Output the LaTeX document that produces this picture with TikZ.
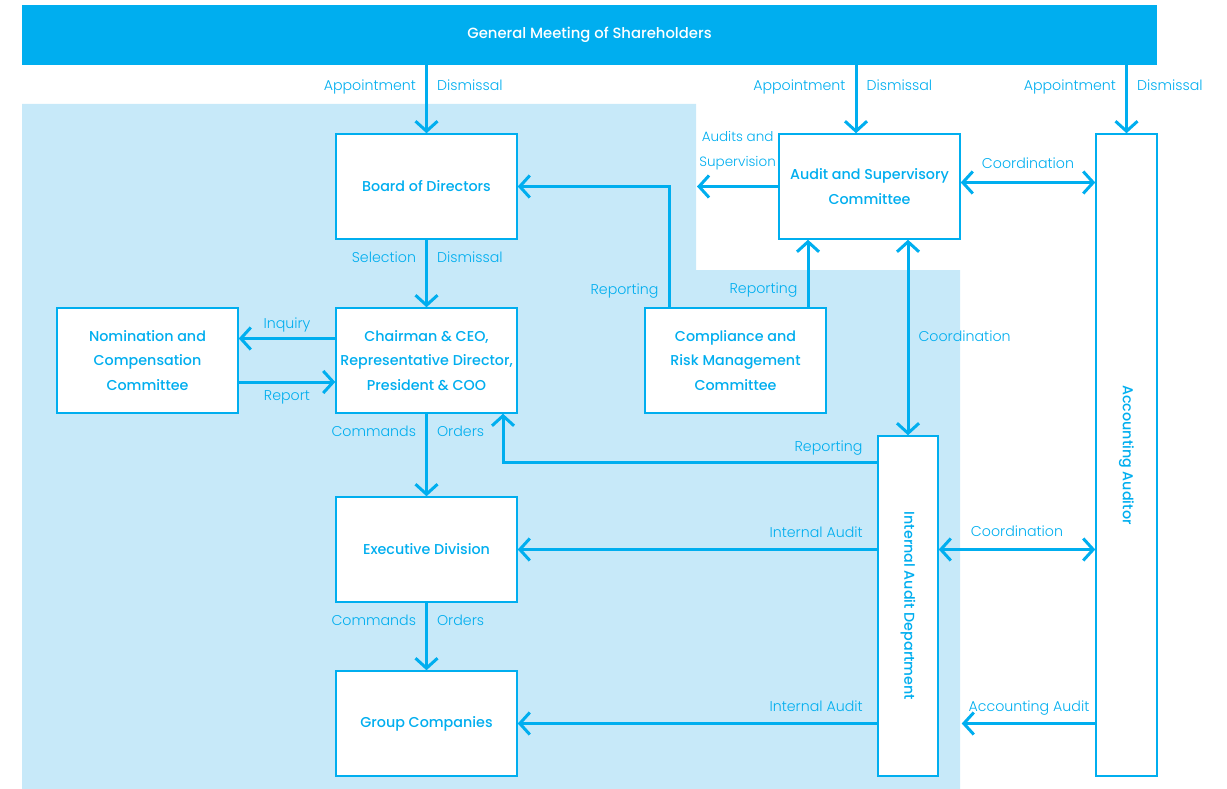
\documentclass[tikz,border=0pt]{standalone}
\usepackage{fontspec}
\setmainfont{Poppins}[UprightFont=* Light, BoldFont=* Medium]
\usepackage{graphicx}
\usepackage{tikz}
\usetikzlibrary{arrows.meta}
\definecolor{mycyan}{RGB}{0,174,239}
\definecolor{mylight}{RGB}{199,233,249}

\begin{document}
\begin{tikzpicture}[
    x=1pt, y=-1pt,
    box/.style={rectangle, draw=mycyan, line width=1.5pt, fill=white, minimum width=181pt, minimum height=105pt, align=center, text=mycyan, font=\bfseries\fontsize{14.3}{24.5}\selectfont},
    tallbox/.style={box, minimum width=61pt},
    arrow/.style={-{Straight Barb[length=10pt,width=22pt]}, draw=mycyan, line width=3pt},
    twoway/.style={{Straight Barb[length=10pt,width=22pt]}-{Straight Barb[length=10pt,width=22pt]}, draw=mycyan, line width=3pt},
    lbl/.style={text=mycyan, font=\fontsize{14.2}{25}\selectfont, inner xsep=9pt, inner ysep=6pt, text height=10.5pt, text depth=3pt}
]
\useasboundingbox (0,0) rectangle (1227,789);
\fill[mylight] (22,104) -- (696,104) -- (696,270) -- (960,270) -- (960,789) -- (22,789) -- cycle;

\node[fill=mycyan, minimum width=1135pt, minimum height=60pt, text=white, font=\bfseries\fontsize{14.8}{18}\selectfont] (gms) at (589.5,35) {General Meeting of Shareholders};

\node[box] (bod) at (426.5,186.5) {Board of Directors};
\node[box] (asc) at (869.5,186.5) {Audit and Supervisory\\Committee};
\node[tallbox, minimum height=642pt] (acc) at (1126.5,455) {\rotatebox{-90}{Accounting Auditor}};
\node[box] (ceo) at (426.5,360.5) {Chairman \& CEO,\\Representative Director,\\President \& COO};
\node[box] (nom) at (147.5,360.5) {Nomination and\\Compensation\\Committee};
\node[box] (crm) at (735.5,360.5) {Compliance and\\Risk Management\\Committee};
\node[tallbox, minimum width=60pt, minimum height=340pt] (iad) at (908,606) {\rotatebox{-90}{Internal Audit Department}};
\node[box] (exe) at (426.5,549.5) {Executive Division};
\node[box] (grp) at (426.5,723.5) {Group Companies};

\coordinate (ascin) at ([xshift=-13.5pt]asc.north);
\coordinate (supend) at (697,186.5);
\coordinate (crmup) at ([xshift=-66.5pt]crm.north);
\coordinate (crmrt) at ([xshift=72.5pt]crm.north);
\coordinate (ceoin) at ([xshift=76.5pt]ceo.south);

% shareholders
\draw[arrow] (gms.south -| bod) -- node[lbl, pos=0.32, left] {Appointment} node[lbl, pos=0.32, right] {Dismissal} (bod);
\draw[arrow] (gms.south -| ascin) -- node[lbl, pos=0.32, left] {Appointment} node[lbl, pos=0.32, right] {Dismissal} (ascin);
\draw[arrow] (gms.south -| acc) -- node[lbl, pos=0.32, left] {Appointment} node[lbl, pos=0.32, right] {Dismissal} (acc.north);

% audit committee
\draw[arrow] (asc) -- node[above=12pt, align=center, text=mycyan, font=\fontsize{13.5}{25}\selectfont] {Audits and\\Supervision} (supend);
\draw[twoway] ([yshift=4pt]asc.east) -- node[lbl, above=3pt] {Coordination} ([yshift=4pt]asc.east -| acc.west);
\draw[twoway] (iad.north |- asc.south) -- node[lbl, right] {Coordination} (iad.north);
\draw[arrow] (crmup) |- node[lbl, pos=0.07, left] {Reporting} (bod.east);
\draw[arrow] (crmrt) -- node[lbl, pos=0.26, left] {Reporting} (crmrt |- asc.south);

% executive line
\draw[arrow] (bod) -- node[lbl, pos=0.28, left] {Selection} node[lbl, pos=0.28, right] {Dismissal} (ceo);
\draw[arrow] ([yshift=22pt]ceo.west) -- node[lbl, above] {Inquiry} ([yshift=22pt]ceo.west -| nom.east);
\draw[arrow] ([yshift=-21.5pt]nom.east) -- node[lbl, below] {Report} ([yshift=-21.5pt]nom.east -| ceo.west);
\draw[arrow] (ceo) -- node[lbl, pos=0.23, left] {Commands} node[lbl, pos=0.23, right] {Orders} (exe);
\draw[arrow] (exe) -- node[lbl, pos=0.28, left] {Commands} node[lbl, pos=0.28, right] {Orders} (grp);

% internal audit
\draw[arrow] ([yshift=-27pt]iad.north west) -| node[lbl, pos=0.065, above] {Reporting} (ceoin);
\draw[arrow] (iad.west |- exe) -- node[lbl, pos=0.17, above=2pt] {Internal Audit} (exe);
\draw[arrow] (iad.west |- grp) -- node[lbl, pos=0.17, above=2pt] {Internal Audit} (grp);
\draw[twoway] (iad.east |- exe) -- node[lbl, above=3pt] {Coordination} (acc.west |- exe);
\draw[arrow, shorten >=23pt] (acc.west |- grp) -- node[lbl, above=2pt, xshift=12pt] {Accounting Audit} (iad.east |- grp);
\end{tikzpicture}
\end{document}
